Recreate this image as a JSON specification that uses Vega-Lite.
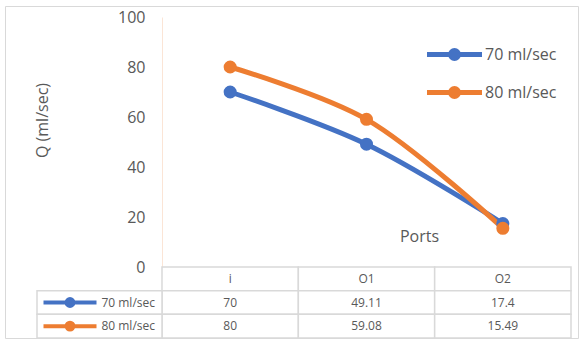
{
  "$schema": "https://vega.github.io/schema/vega-lite/v6.json",
  "width": 573,
  "height": 332,
  "autosize": {"type": "none"},
  "padding": {"left": 5, "top": 6, "right": 4, "bottom": 2},
  "background": "white",
  "config": {
    "view": {"stroke": "#d9d9d9", "strokeWidth": 1},
    "font": "Open Sans",
    "text": {"font": "Open Sans"},
    "legend": {"title": null, "orient": "none", "legendX": 440, "legendY": 39,
               "symbolType": "M-3.93,0H3.93M0.57,0A0.57,0.57,0,1,1,-0.57,0A0.57,0.57,0,1,1,0.57,0Z",
               "symbolSize": 196, "symbolStrokeWidth": 5, "symbolOpacity": 1,
               "labelFontSize": 16, "labelColor": "#595959", "labelFont": "Open Sans",
               "labelOffset": 21, "rowPadding": 9}
  },
  "datasets": {
    "flow": [
      {"series": "70 ml/sec", "port": "i", "value": 70},
      {"series": "70 ml/sec", "port": "O1", "value": 49.11},
      {"series": "70 ml/sec", "port": "O2", "value": 17.4},
      {"series": "80 ml/sec", "port": "i", "value": 80},
      {"series": "80 ml/sec", "port": "O1", "value": 59.08},
      {"series": "80 ml/sec", "port": "O2", "value": 15.49}
    ],
    "header": [{"port": "i"}, {"port": "O1"}, {"port": "O2"}],
    "key": [{"series": "70 ml/sec"}, {"series": "80 ml/sec"}]
  },
  "layer": [
    {
      "layer": [
        {
          "data": {"name": "header"},
          "mark": {"type": "rect", "fill": "white", "stroke": "#d9d9d9", "strokeWidth": 1.5},
          "encoding": {
            "x": {"field": "port", "type": "nominal", "axis": null,
                  "scale": {"type": "band", "domain": ["i", "O1", "O2"], "range": [157, 566], "paddingInner": 0, "paddingOuter": 0}},
            "y": {"datum": "header", "type": "nominal", "axis": null,
                  "scale": {"type": "band", "domain": ["header", "70 ml/sec", "80 ml/sec"], "range": [261, 332], "paddingInner": 0, "paddingOuter": 0}}
          }
        },
        {
          "data": {"name": "flow"},
          "mark": {"type": "rect", "fill": "white", "stroke": "#d9d9d9", "strokeWidth": 1.5},
          "encoding": {
            "x": {"field": "port", "type": "nominal"},
            "y": {"field": "series", "type": "nominal"}
          }
        },
        {
          "data": {"name": "header"},
          "mark": {"type": "text", "fontSize": 12, "color": "#595959", "font": "Open Sans"},
          "encoding": {
            "x": {"field": "port", "type": "nominal"},
            "y": {"datum": "header", "type": "nominal"},
            "text": {"field": "port"}
          }
        },
        {
          "data": {"name": "flow"},
          "mark": {"type": "text", "fontSize": 12, "color": "#595959", "font": "Open Sans"},
          "encoding": {
            "x": {"field": "port", "type": "nominal"},
            "y": {"field": "series", "type": "nominal"},
            "text": {"field": "value", "type": "quantitative"}
          }
        }
      ]
    },
    {
      "data": {"name": "key"},
      "layer": [
        {
          "mark": {"type": "rect", "fill": "white", "stroke": "#d9d9d9", "strokeWidth": 1.5},
          "encoding": {
            "x": {"datum": "key", "type": "nominal", "axis": null,
                  "scale": {"type": "band", "domain": ["key"], "range": [32, 157], "paddingInner": 0, "paddingOuter": 0}},
            "y": {"field": "series", "type": "nominal", "axis": null,
                  "scale": {"type": "band", "domain": ["header", "70 ml/sec", "80 ml/sec"], "range": [261, 332], "paddingInner": 0, "paddingOuter": 0}}
          }
        },
        {
          "mark": {"type": "text", "fontSize": 12, "color": "#595959", "font": "Open Sans", "align": "right", "dx": -7},
          "encoding": {
            "x": {"datum": "key", "type": "nominal", "bandPosition": 1},
            "y": {"field": "series", "type": "nominal"},
            "text": {"field": "series"}
          }
        }
      ]
    },
    {
      "data": {"name": "key"},
      "mark": {"type": "point", "shape": "M-1,0H1M0.13,0A0.13,0.13,0,1,1,-0.13,0A0.13,0.13,0,1,1,0.13,0Z", "size": 2809, "filled": true, "opacity": 1, "strokeWidth": 4},
      "encoding": {
        "x": {"datum": "key", "type": "nominal", "axis": null,
              "scale": {"type": "band", "domain": ["key"], "range": [32, 98], "paddingInner": 0, "paddingOuter": 0}},
        "y": {"field": "series", "type": "nominal", "axis": null,
              "scale": {"type": "band", "domain": ["header", "70 ml/sec", "80 ml/sec"], "range": [261, 332], "paddingInner": 0, "paddingOuter": 0}},
        "fill": {"field": "series", "type": "nominal",
                 "scale": {"domain": ["70 ml/sec", "80 ml/sec"], "range": ["#4472C4", "#ED7D31"]}},
        "stroke": {"field": "series", "type": "nominal",
                   "scale": {"domain": ["70 ml/sec", "80 ml/sec"], "range": ["#4472C4", "#ED7D31"]}}
      }
    },
    {
      "data": {"name": "flow"},
      "layer": [
        {
          "mark": {"type": "line", "interpolate": "catmull-rom", "strokeWidth": 5, "strokeCap": "round"},
          "encoding": {
            "x": {"field": "port", "type": "nominal",
                  "scale": {"type": "point", "domain": ["i", "O1", "O2"], "range": [157, 566], "padding": 0.5},
                  "axis": {"orient": "bottom", "title": "Ports", "labels": false, "ticks": false, "domain": false, "grid": false,
                           "titleFontSize": 16, "titleFontWeight": "normal", "titleColor": "#595959", "titleFont": "Open Sans",
                           "titleX": 414, "titleY": -102, "titleAlign": "center", "titleBaseline": "middle"}},
            "y": {"field": "value", "type": "quantitative",
                  "scale": {"domain": [0, 100], "range": [261, 11], "nice": false, "zero": true},
                  "axis": {"orient": "left", "offset": -157, "values": [0, 20, 40, 60, 80, 100], "grid": false, "ticks": false,
                           "domainColor": "#FBE5D6", "domainWidth": 1,
                           "labelFontSize": 16, "labelColor": "#595959", "labelFont": "Open Sans", "labelPadding": 17,
                           "title": "Q (ml/sec)", "titleFontSize": 16, "titleFontWeight": "normal", "titleColor": "#595959", "titleFont": "Open Sans",
                           "titleX": -120, "titleY": 114, "titleAlign": "center", "titleBaseline": "middle", "titleAngle": -90}},
            "stroke": {"field": "series", "type": "nominal"}
          }
        },
        {
          "mark": {"type": "point", "shape": "circle", "filled": true, "size": 170, "opacity": 1, "strokeWidth": 0},
          "encoding": {
            "x": {"field": "port", "type": "nominal"},
            "y": {"field": "value", "type": "quantitative"},
            "fill": {"field": "series", "type": "nominal"},
            "stroke": {"field": "series", "type": "nominal"}
          }
        }
      ]
    }
  ],
  "resolve": {"scale": {"x": "independent", "y": "independent"}}
}
